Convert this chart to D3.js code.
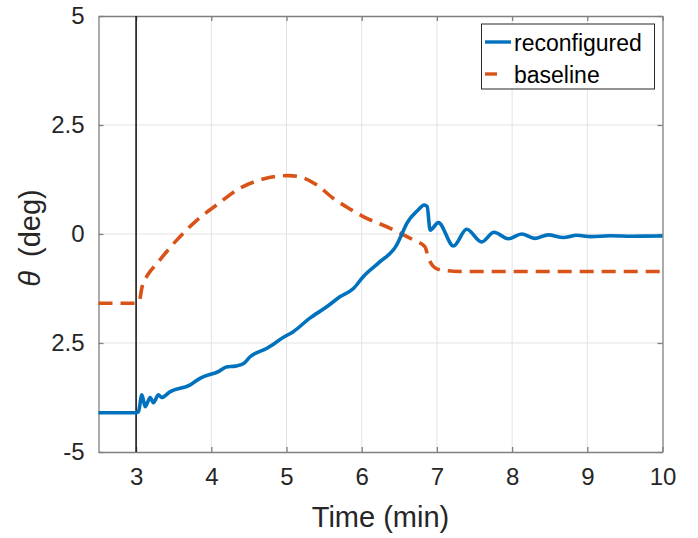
<!DOCTYPE html>
<html>
<head>
<meta charset="utf-8">
<script src="https://cdn.jsdelivr.net/npm/d3@7"></script>
<style>
  html, body { margin: 0; padding: 0; background: #fff; }
  svg { display: block; font-family: "Liberation Sans", Arial, sans-serif; }
</style>
</head>
<body>
<svg id="chart" width="698" height="538"></svg>
<script>
// Pitch angle response after the fault at t = 3 min
const reconfiguredTime = [2.5, 3.0, 3.03, 3.077, 3.12, 3.187, 3.23, 3.297, 3.34, 3.45, 3.72, 3.85, 4.1, 4.2, 4.32, 4.43, 4.52, 4.74, 4.96, 5.09, 5.31, 5.535, 5.71, 5.89, 6.02, 6.24, 6.466, 6.53, 6.6, 6.75, 6.83, 6.87, 6.91, 7.02, 7.22, 7.396, 7.595, 7.76, 7.95, 8.127, 8.30, 8.48, 8.68, 8.86, 9.05, 9.3, 9.6, 10];
const reconfiguredTheta = [-4.10, -4.10, -4.08, -3.69, -3.96, -3.75, -3.87, -3.69, -3.75, -3.62, -3.46, -3.31, -3.15, -3.05, -3.03, -2.97, -2.81, -2.62, -2.37, -2.24, -1.93, -1.67, -1.44, -1.25, -0.98, -0.64, -0.25, -0.02, 0.245, 0.55, 0.665, 0.63, 0.09, 0.26, -0.275, 0.11, -0.18, 0.04, -0.11, 0.0, -0.10, -0.02, -0.08, -0.03, -0.06, -0.04, -0.05, -0.045];

const baselineTime = [2.5, 3.0, 3.04, 3.08, 3.15, 3.28, 3.54, 3.81, 4.07, 4.38, 4.69, 5.03, 5.2, 5.4, 5.62, 5.8, 6.02, 6.38, 6.69, 6.84, 6.89, 7.0, 7.13, 7.3, 10];
const baselineTheta = [-1.59, -1.59, -1.55, -1.21, -0.95, -0.67, -0.14, 0.32, 0.665, 1.05, 1.26, 1.34, 1.30, 1.13, 0.82, 0.62, 0.40, 0.13, -0.14, -0.29, -0.56, -0.80, -0.84, -0.86, -0.86];

const xTicks = [3, 4, 5, 6, 7, 8, 9, 10];
const yTicks = [5, 2.5, 0, -2.5, -5];
const yTickLabels = ["5", "2.5", "0", "2.5", "-5"];
const faultTime = 3;

const legendNames = ["reconfigured", "baseline"];

const svg = d3.select("#chart");
const plot = { left: 98.5, right: 662.5, top: 16, bottom: 452 };

const x = d3.scaleLinear().domain([2.5, 10]).range([plot.left, plot.right]);
const y = d3.scaleLinear().domain([-5, 5]).range([plot.bottom, plot.top]);

const axisColor = "#7f7f7f";
const textColor = "#262626";
const blue = "#0072BD";
const orange = "#D95319";

// grid lines
const grid = svg.append("g");
grid.selectAll("line.gx").data(xTicks.filter(t => t > 2.5 && t < 10)).join("line")
  .attr("x1", d => x(d)).attr("x2", d => x(d))
  .attr("y1", plot.top).attr("y2", plot.bottom)
  .attr("stroke", "#e3e3e3").attr("stroke-width", 1);
grid.selectAll("line.gy").data(yTicks.filter(t => t > -5 && t < 5)).join("line")
  .attr("x1", plot.left).attr("x2", plot.right)
  .attr("y1", d => y(d)).attr("y2", d => y(d))
  .attr("stroke", "#e3e3e3").attr("stroke-width", 1);

// axes with inward ticks on all four sides
const tickLen = 5;
const bottomAxis = d3.axisBottom(x).tickValues(xTicks).tickSizeInner(-tickLen).tickSizeOuter(0).tickPadding(16).tickFormat(d3.format("d"));
const topAxis = d3.axisTop(x).tickValues(xTicks).tickSizeInner(-tickLen).tickSizeOuter(0).tickFormat("");
const leftAxis = d3.axisLeft(y).tickValues(yTicks).tickSizeInner(-tickLen).tickSizeOuter(0).tickPadding(14)
  .tickFormat((d, i) => yTickLabels[i]);
const rightAxis = d3.axisRight(y).tickValues(yTicks).tickSizeInner(-tickLen).tickSizeOuter(0).tickFormat("");

function styleAxis(g) {
  g.select(".domain").attr("stroke", axisColor).attr("stroke-width", 1.3);
  g.selectAll(".tick line").attr("stroke", axisColor).attr("stroke-width", 1.3);
  g.selectAll(".tick text").attr("fill", textColor).style("font-size", "24px")
    .style("font-family", "'Liberation Sans', Arial, sans-serif");
}

svg.append("g").attr("transform", `translate(0,${plot.bottom})`).call(bottomAxis).call(styleAxis);
svg.append("g").attr("transform", `translate(0,${plot.top})`).call(topAxis).call(styleAxis);
svg.append("g").attr("transform", `translate(${plot.left},0)`).call(leftAxis).call(styleAxis);
svg.append("g").attr("transform", `translate(${plot.right},0)`).call(rightAxis).call(styleAxis);

// fault instant marker
svg.append("line")
  .attr("x1", x(faultTime)).attr("x2", x(faultTime))
  .attr("y1", plot.top).attr("y2", plot.bottom)
  .attr("stroke", "#1a1a1a").attr("stroke-width", 1.6);

// series
const line = d3.line().x(d => x(d[0])).y(d => y(d[1])).curve(d3.curveMonotoneX);
const reconfigured = reconfiguredTime.map((t, i) => [t, reconfiguredTheta[i]]);
const baseline = baselineTime.map((t, i) => [t, baselineTheta[i]]);

svg.append("path").datum(baseline)
  .attr("d", line).attr("fill", "none")
  .attr("stroke", orange).attr("stroke-width", 3.6)
  .attr("stroke-dasharray", "14,8");

svg.append("path").datum(reconfigured)
  .attr("d", line).attr("fill", "none")
  .attr("stroke", blue).attr("stroke-width", 3.6)
  .attr("stroke-linejoin", "round");

// axis titles
svg.append("text")
  .attr("x", (plot.left + plot.right) / 2)
  .attr("y", 527)
  .attr("text-anchor", "middle")
  .attr("fill", textColor)
  .style("font-size", "29px")
  .text("Time (min)");

const yTitle = svg.append("text")
  .attr("transform", "translate(40,238) rotate(-90)")
  .attr("text-anchor", "middle")
  .attr("fill", textColor)
  .style("font-size", "29px");
yTitle.append("tspan").style("font-style", "italic").text("θ");
yTitle.append("tspan").attr("dx", 14).text("(deg)");

// legend
const legend = svg.append("g");
legend.append("rect")
  .attr("x", 481.5).attr("y", 24)
  .attr("width", 173).attr("height", 65)
  .attr("fill", "#fff").attr("stroke", "#262626").attr("stroke-width", 1);
const legendStyles = [
  { color: blue, x2: 511 },
  { color: orange, x2: 497 }
];
legendNames.forEach((name, i) => {
  const ly = 42 + i * 32;
  legend.append("line")
    .attr("x1", 485).attr("x2", legendStyles[i].x2)
    .attr("y1", ly).attr("y2", ly)
    .attr("stroke", legendStyles[i].color).attr("stroke-width", 3.4);
  legend.append("text")
    .attr("x", 514).attr("y", ly + 8.5)
    .attr("fill", "#000")
    .style("font-size", "23px")
    .text(name);
});
</script>
</body>
</html>
